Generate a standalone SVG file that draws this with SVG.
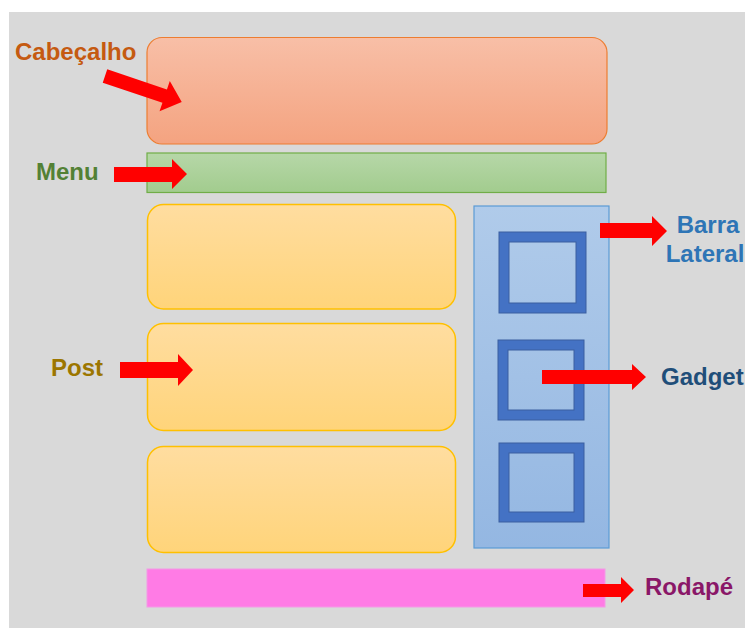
<svg xmlns="http://www.w3.org/2000/svg" width="745" height="628" viewBox="0 0 745 628">
  <defs>
    <linearGradient id="gHead" x1="0" y1="0" x2="0" y2="1">
      <stop offset="0" stop-color="#F8BFA7"/>
      <stop offset="1" stop-color="#F4A380"/>
    </linearGradient>
    <linearGradient id="gMenu" x1="0" y1="0" x2="0" y2="1">
      <stop offset="0" stop-color="#B6D7A8"/>
      <stop offset="1" stop-color="#A2CC8E"/>
    </linearGradient>
    <linearGradient id="gPost" x1="0" y1="0" x2="0" y2="1">
      <stop offset="0" stop-color="#FFDDA0"/>
      <stop offset="1" stop-color="#FFD47A"/>
    </linearGradient>
    <linearGradient id="gSide" x1="0" y1="0" x2="0" y2="1">
      <stop offset="0" stop-color="#B0CBEA"/>
      <stop offset="1" stop-color="#94B7E2"/>
    </linearGradient>
    <style>
      .lbl { font-family: "Liberation Sans", Arial, sans-serif; font-weight: bold; font-size: 24px; }
      .post { fill: url(#gPost); stroke: #FFC000; stroke-width: 1.5; }
      .gadget { fill: none; stroke: #4472C4; stroke-width: 10; }
      .gline { fill: none; stroke: #3A5FA0; stroke-width: 1; }
      .arrow { fill: #FF0000; }
    </style>
  </defs>

  <rect x="0" y="0" width="745" height="628" fill="#FFFFFF"/>
  <rect x="9" y="12" width="736" height="616" fill="#D9D9D9"/>

  <g id="cabecalho">
    <rect x="147" y="37.5" width="460" height="106.5" rx="15" fill="url(#gHead)" stroke="#ED7D31" stroke-width="1.2"/>
  </g>
  <g id="menu">
    <rect x="147" y="153" width="459" height="39.5" fill="url(#gMenu)" stroke="#70AD47" stroke-width="1.2"/>
  </g>
  <g id="post1">
    <rect class="post" x="147.5" y="204.5" width="308" height="104.5" rx="16"/>
  </g>
  <g id="post2">
    <rect class="post" x="147.5" y="323.5" width="308" height="107" rx="16"/>
  </g>
  <g id="post3">
    <rect class="post" x="147.5" y="446.5" width="308" height="106" rx="16"/>
  </g>
  <g id="barra-lateral">
    <rect x="474" y="206" width="135" height="342" fill="url(#gSide)" stroke="#5B9BD5" stroke-width="1.2"/>
  </g>
  <g id="gadget1">
    <rect class="gadget" x="504" y="237" width="77" height="71"/>
    <rect class="gline" x="499" y="232" width="87" height="81"/>
    <rect class="gline" x="509" y="242" width="67" height="61"/>
  </g>
  <g id="gadget2">
    <rect class="gadget" x="503" y="345" width="76" height="70"/>
    <rect class="gline" x="498" y="340" width="86" height="80"/>
    <rect class="gline" x="508" y="350" width="66" height="60"/>
  </g>
  <g id="gadget3">
    <rect class="gadget" x="504" y="448" width="75" height="69"/>
    <rect class="gline" x="499" y="443" width="85" height="79"/>
    <rect class="gline" x="509" y="453" width="65" height="59"/>
  </g>
  <g id="rodape">
    <rect x="147" y="569" width="458" height="38" fill="#FF7BE5" stroke="#F49AE6" stroke-width="1"/>
  </g>

  <g id="connectors">
    <polygon class="arrow" transform="translate(105,76) rotate(18.7)" points="0,-7 63,-7 63,-16 81,0 63,16 63,7 0,7"/>
    <polygon class="arrow" points="114,167 172,167 172,159 187,174 172,189 172,182 114,182"/>
    <polygon class="arrow" points="120,362 178,362 178,354 193,370 178,386 178,378 120,378"/>
    <polygon class="arrow" points="600,223 652,223 652,216 667,231 652,246 652,238 600,238"/>
    <polygon class="arrow" points="542,370 632,370 632,364 646,377 632,390 632,384 542,384"/>
    <polygon class="arrow" points="583,584 621,584 621,577 634,590 621,603 621,597 583,597"/>
  </g>

  <g id="labels">
    <text class="lbl" x="708" y="233" fill="#2E75B6" text-anchor="middle">Barra</text>
    <text class="lbl" x="705" y="262" fill="#2E75B6" text-anchor="middle">Lateral</text>
    <text class="lbl" x="15" y="60" fill="#C55A11">Cabeçalho</text>
    <text class="lbl" x="36" y="180" fill="#538135">Menu</text>
    <text class="lbl" x="51" y="376" fill="#9C7600">Post</text>
    <text class="lbl" x="661" y="385" fill="#1F4E79">Gadget</text>
    <text class="lbl" x="645" y="595" fill="#8A1768">Rodapé</text>
  </g>
</svg>
